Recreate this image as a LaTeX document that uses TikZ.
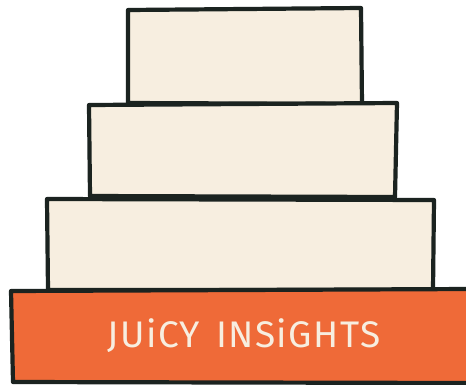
\documentclass[tikz,border=0pt]{standalone}
\usepackage{fontspec}
\newfontfamily\handfont[LetterSpace=4]{Fira Sans}
\definecolor{cream}{HTML}{F7EEE0}
\definecolor{juice}{HTML}{EF6A38}
\definecolor{ink}{HTML}{1B2320}
\begin{document}
\begin{tikzpicture}[x=1pt,y=-1pt,
  tier/.style={draw=ink,line width=4.2pt,line join=round,fill=cream},
  basetier/.style={draw=ink,line width=4.2pt,line join=round,fill=juice}]
\useasboundingbox (0,0) rectangle (466,384);
% top tier
\draw[tier] (128,10) -- (361,8) -- (362,104) -- (128,103) -- cycle;
% middle tier
\draw[tier] (89,105) -- (397,103) -- (395,197) -- (90,196) -- cycle;
% bottom cream tier
\draw[tier] (47,199) -- (434,200) -- (433,290) -- (48,290) -- cycle;
% orange base
\draw[basetier] (11,291) -- (470,289) -- (470,383) -- (13,382) -- cycle;
\node[text=cream,font=\handfont\fontsize{37}{37}\selectfont,anchor=center] (label) at (244,336) {JUiCY\hspace{16pt}INSiGHTS};
\end{tikzpicture}
\end{document}
